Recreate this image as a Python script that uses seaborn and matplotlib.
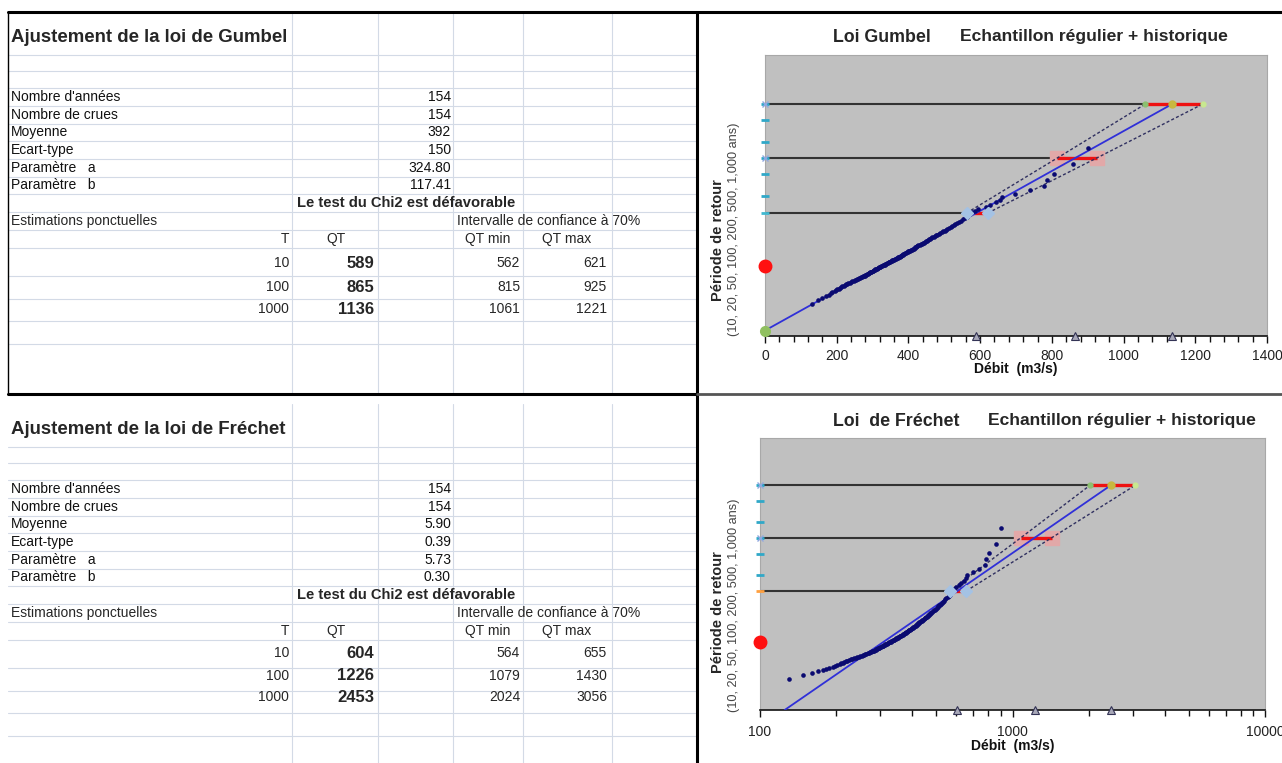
import numpy as np
import pandas as pd
import matplotlib
matplotlib.use("Agg")
import matplotlib.pyplot as plt
from matplotlib.ticker import MultipleLocator, LogLocator, NullFormatter, FixedLocator, FixedFormatter
import seaborn as sns

# ---------------- data ----------------
row_labels = ["Nombre d'années", "Nombre de crues", "Moyenne", "Ecart-type",
              "Paramètre   a", "Paramètre   b"]
gumbel_stats = ["154", "154", "392", "150", "324.80", "117.41"]
frechet_stats = ["154", "154", "5.90", "0.39", "5.73", "0.30"]

T_values = [10, 100, 1000]
T_axis = [10, 20, 50, 100, 200, 500, 1000]

gumbel_qt = [589, 865, 1136]
gumbel_qt_min = [562, 815, 1061]
gumbel_qt_max = [621, 925, 1221]
frechet_qt = [604, 1226, 2453]
frechet_qt_min = [564, 1079, 2024]
frechet_qt_max = [655, 1430, 3056]

gumbel_a, gumbel_b = 324.80, 117.41
frechet_a, frechet_b = 5.73, 0.30

# observed annual floods (m3/s), sorted
debits = [
    130, 148, 160, 170, 178, 183, 188, 194, 198, 202,
    207, 210, 213, 216, 219, 222, 225, 229, 232, 236,
    240, 243, 247, 250, 253, 256, 258, 261, 264, 267,
    270, 272, 275, 278, 280, 283, 285, 287, 289, 291,
    293, 295, 297, 300, 302, 304, 306, 308, 310, 312,
    314, 316, 318, 320, 322, 324, 326, 329, 331, 334,
    336, 338, 340, 342, 345, 347, 349, 351, 353, 355,
    357, 360, 363, 366, 368, 370, 372, 374, 376, 378,
    380, 382, 384, 386, 388, 390, 392, 395, 398, 400,
    402, 405, 408, 411, 413, 415, 417, 419, 421, 423,
    425, 428, 431, 434, 437, 440, 443, 446, 449, 452,
    455, 458, 461, 464, 467, 470, 473, 477, 481, 485,
    489, 493, 497, 501, 505, 508, 513, 518, 522, 527,
    531, 536, 541, 547, 553, 558, 563, 567, 572, 578,
    585, 595, 615, 628, 645, 655, 661, 697, 739, 778,
    786, 806, 859, 901,
]
red_marker_u = 0.0

# ---------------- style ----------------
sns.set_style("white")
plt.rcParams["font.family"] = ["Liberation Sans", "DejaVu Sans"]

fig = plt.figure(figsize=(12.82, 7.63), dpi=100)
bg = fig.add_axes([0, 0, 1, 1])
bg.set_xlim(0, 1282)
bg.set_ylim(763, 0)
bg.axis("off")

GRID = "#d3dae6"
FS = 10
vgrid = [292, 378, 453, 523, 612]
hgrid = [55, 71, 88, 106, 124, 141, 159, 177, 194, 212, 230, 248, 276, 299, 321, 344]


def draw_table(off, bottom, title, stats, qt, qmin, qmax, rows_y):
    for y in hgrid:
        bg.plot([8, 697], [y + off, y + off], color=GRID, lw=0.8, zorder=1)
    for x in vgrid:
        bg.plot([x, x], [12 + off, bottom], color=GRID, lw=0.8, zorder=1)
    bg.text(11, 37 + off, title, fontsize=13.4, fontweight="bold", va="center", ha="left")
    for i, (lab, val) in enumerate(zip(row_labels, stats)):
        y = [97, 115, 132, 150, 168, 185][i] + off
        bg.text(11, y, lab, fontsize=FS, va="center", ha="left", color="#111")
        bg.text(451, y, val, fontsize=FS, va="center", ha="right", color="#111")
    bg.text(297, 203 + off, "Le test du Chi2 est défavorable", fontsize=10.6,
            fontweight="bold", va="center", ha="left")
    bg.text(11, 221 + off, "Estimations ponctuelles", fontsize=FS, va="center", ha="left")
    bg.text(457, 221 + off, "Intervalle de confiance à 70%", fontsize=FS, va="center", ha="left")
    bg.text(289, 239 + off, "T", fontsize=FS, va="center", ha="right")
    bg.text(336, 239 + off, "QT", fontsize=FS, va="center", ha="center")
    bg.text(488, 239 + off, "QT min", fontsize=FS, va="center", ha="center")
    bg.text(567, 239 + off, "QT max", fontsize=FS, va="center", ha="center")
    for T, q, lo, hi, y in zip(T_values, qt, qmin, qmax, rows_y):
        bg.text(289, y, str(T), fontsize=FS, va="center", ha="right")
        bg.text(374, y, str(q), fontsize=12, fontweight="bold", va="center", ha="right")
        bg.text(520, y, str(lo), fontsize=FS, va="center", ha="right")
        bg.text(607, y, str(hi), fontsize=FS, va="center", ha="right")


draw_table(0, 394, "Ajustement de la loi de Gumbel", gumbel_stats,
           gumbel_qt, gumbel_qt_min, gumbel_qt_max, [263, 287, 309])
draw_table(392, 763, "Ajustement de la loi de Fréchet", frechet_stats,
           frechet_qt, frechet_qt_min, frechet_qt_max, [653, 676, 697])

# frame lines
bg.plot([8, 1282], [12, 12], color="black", lw=2.2, zorder=5)
bg.plot([697, 697], [12, 763], color="black", lw=2.2, zorder=5)
bg.plot([8, 697], [394, 394], color="black", lw=2.2, zorder=5)
bg.plot([697, 1282], [394, 394], color="#555555", lw=2.0, zorder=5)
bg.plot([8, 8], [12, 394], color="black", lw=1.0, zorder=5)

# chart titles and y labels
bg.text(833, 37, "Loi Gumbel", fontsize=12.8, fontweight="bold", va="center", ha="left")
bg.text(960, 37, "Echantillon régulier + historique", fontsize=12.6, fontweight="bold",
        va="center", ha="left")
bg.text(833, 421, "Loi  de Fréchet", fontsize=12.8, fontweight="bold", va="center", ha="left")
bg.text(988, 421, "Echantillon régulier + historique", fontsize=12.6, fontweight="bold",
        va="center", ha="left")
for yc, ys in [(240, 229), (612, 605)]:
    bg.text(718, yc, "Période de retour", fontsize=10.5, fontweight="bold", rotation=90,
            va="center", ha="center")
    bg.text(734, ys, "(10, 20, 50, 100, 200, 500, 1,000 ans)", fontsize=9.2, rotation=90,
            va="center", ha="center", color="#444")


# ---------------- charts ----------------
def reduced(T):
    T = np.asarray(T, float)
    return -np.log(-np.log(1 - 1 / T))


n = len(debits)
u_obs = -np.log(-np.log(np.arange(1, n + 1) / (n + 1)))
obs = pd.DataFrame({"Débit": np.sort(debits), "u": u_obs})
uT = reduced(T_values)
u_axis = reduced(T_axis)


def draw_chart(ax, qt, qmin, qmax, a, b, log, pad):
    ax.set_facecolor("#c0c0c0")
    ymin, ymax = -3, 9
    if log:
        ax.set_xscale("log")
        xmin, xmax = 100, 10000
        u_line = np.linspace(ymin, uT[-1], 80)
        q_line = np.exp(a + b * u_line)
    else:
        xmin, xmax = 0, 1400
        u_line = np.array([(0 - a) / b, uT[-1]])
        q_line = a + b * u_line
    ax.set_xlim(xmin, xmax)
    ax.set_ylim(ymin, ymax)

    # horizontal reference lines and confidence intervals
    ax.hlines(uT, xmin, qmin, color="#333333", lw=1.5, zorder=2)
    ax.hlines(uT, qmin, qmax, color="#ee1111", lw=2.4, zorder=3)
    # fitted line
    fit = pd.DataFrame({"Débit": q_line, "u": u_line})
    sns.lineplot(data=fit, x="Débit", y="u", ax=ax, color="#3030d8", lw=1.3,
                 sort=False, estimator=None, zorder=4)
    # confidence bounds
    ax.plot(qmin, uT, color="#303060", lw=1.0, ls=(0, (2.2, 1.6)), zorder=4)
    ax.plot(qmax, uT, color="#303060", lw=1.0, ls=(0, (2.2, 1.6)), zorder=4)
    # observations
    sns.scatterplot(data=obs, x="Débit", y="u", ax=ax, color="#0a0a70", s=11,
                    linewidth=0, zorder=5)
    # interval end markers
    ax.plot([qmin[0], qmax[0]], [uT[0]] * 2, "D", color="#a4c2e4", ms=6, zorder=6, ls="none")
    ax.plot([qmin[1], qmax[1]], [uT[1]] * 2, "s", color="#e2a8a8", ms=10, zorder=2, ls="none")
    ax.plot([qmin[2]], [uT[2]], "o", color="#8cc070", ms=3.5, zorder=6)
    ax.plot([qmax[2]], [uT[2]], "o", color="#c8e890", ms=3.5, zorder=6)
    ax.plot([qt[2]], [uT[2]], "o", color="#c8b840", ms=5, zorder=6)
    # return period markers on left axis
    axis_cols = ["#ffa040" if log else "#40b8d0"] + ["#30a8c8"] * 6
    for uu, c in zip(u_axis, axis_cols):
        ax.plot([xmin], [uu], "_", color=c, ms=6, mew=2, clip_on=False, zorder=7)
    ax.plot([xmin, xmin], [uT[1], uT[2]], "x", color="#90a8e0", ms=5, mew=1,
            clip_on=False, zorder=7, ls="none")
    ax.plot([xmin], [red_marker_u], "o", color="#ff1010", ms=9, clip_on=False, zorder=7)
    if not log:
        ax.plot([0], [(0 - a) / b], "o", color="#90c060", ms=7, clip_on=False, zorder=7)
    # quantile markers on x axis
    ax.plot(qt, [ymin] * 3, "^", color="#a8a8b8", mec="#333355", ms=6, mew=0.8,
            clip_on=False, zorder=8, ls="none")

    # axes styling
    ax.set_yticks([])
    ax.set_ylabel("")
    ax.set_xlabel("Débit  (m3/s)", fontsize=10, fontweight="bold", labelpad=0, color="#111")
    for s in ["top", "right", "left"]:
        ax.spines[s].set_color("#a8a8a8")
        ax.spines[s].set_linewidth(0.8)
    ax.spines["bottom"].set_color("#111111")
    ax.spines["bottom"].set_linewidth(1.2)
    if log:
        ax.xaxis.set_major_locator(FixedLocator([100, 1000, 10000]))
        ax.xaxis.set_major_formatter(FixedFormatter(["100", "1000", "10000"]))
        ax.xaxis.set_minor_locator(LogLocator(base=10, subs=np.arange(2, 10)))
        ax.xaxis.set_minor_formatter(NullFormatter())
    else:
        ax.set_xticks(np.arange(0, 1401, 200))
        ax.xaxis.set_minor_locator(MultipleLocator(40))
    ax.tick_params(axis="x", which="major", direction="out", length=5, width=1,
                   color="#111", labelsize=10, labelcolor="#222", pad=pad, bottom=True)
    ax.tick_params(axis="x", which="minor", direction="out", length=4, width=1,
                   color="#111", bottom=True)
    ax.grid(False)


W, H = 1282, 763
ax1 = fig.add_axes([765 / W, 1 - 336 / H, (1267 - 765) / W, (336 - 55) / H])
draw_chart(ax1, gumbel_qt, gumbel_qt_min, gumbel_qt_max, gumbel_a, gumbel_b, log=False, pad=4)
ax2 = fig.add_axes([760 / W, 1 - 710 / H, (1265 - 760) / W, (710 - 438) / H])
draw_chart(ax2, frechet_qt, frechet_qt_min, frechet_qt_max, frechet_a, frechet_b, log=True, pad=6)

fig.savefig("out.png", dpi=100)
